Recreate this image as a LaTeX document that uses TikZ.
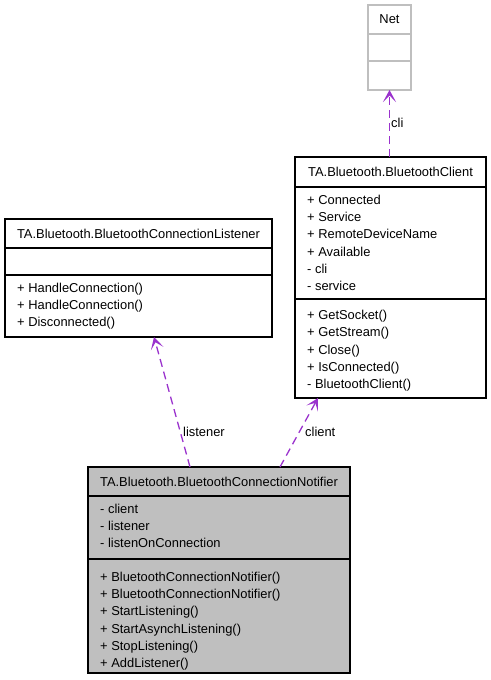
\documentclass[tikz,border=0pt]{standalone}
\usepackage{fontspec}
\setmainfont{Liberation Sans}
\usetikzlibrary{arrows.meta}
\definecolor{usecol}{HTML}{9A32CD}
\definecolor{notifill}{HTML}{BFBFBF}
\definecolor{extline}{HTML}{BFBFBF}
\begin{document}
\begin{tikzpicture}[x=1bp,y=-1bp,
  font=\fontsize{12.9bp}{15bp}\selectfont,
  classbox/.style={draw=black,line width=1.2bp,fill=white,inner sep=0pt,outer sep=0pt},
  member/.style={anchor=base west,inner sep=0pt},
  ctitle/.style={anchor=base,inner sep=0pt},
  divider/.style={draw=black,line width=1.2bp},
  uses/.style={draw=usecol,line width=1.3bp,dash pattern=on 8bp off 5bp,
    -{Stealth[length=12bp,width=13bp,inset=6.5bp]}},
  elabel/.style={anchor=west,inner sep=0pt}]
\useasboundingbox (0,0) rectangle (491,680);

% ---- Net (external) ----
\node[classbox,draw=extline,minimum width=43bp,minimum height=85bp] (net) at (389.5,47.5) {};
\draw[extline,line width=1.2bp] (net.west |- 0,34) -- (net.east |- 0,34);
\draw[extline,line width=1.2bp] (net.west |- 0,61) -- (net.east |- 0,61);
\node[ctitle] (netT) at (389.5,24) {Net};

% ---- TA.Bluetooth.BluetoothClient ----
\node[classbox,minimum width=191bp,minimum height=241bp] (cl) at (390.5,277.5) {};
\draw[divider] (cl.west |- 0,187) -- (cl.east |- 0,187);
\draw[divider] (cl.west |- 0,299) -- (cl.east |- 0,299);
\node[ctitle] (clT) at (390.5,176) {TA.Bluetooth.BluetoothClient};
\node[member] (cla1) at (307,204)   {+ Connected};
\node[member] (cla2) at (307,221.4) {+ Service};
\node[member] (cla3) at (307,238.7) {+ RemoteDeviceName};
\node[member] (cla4) at (307,256)   {+ Available};
\node[member] (cla5) at (307,273.4) {- cli};
\node[member] (cla6) at (307,290.7) {- service};
\node[member] (clm1) at (307,319.5) {+ GetSocket()};
\node[member] (clm2) at (307,336.8) {+ GetStream()};
\node[member] (clm3) at (307,354.2) {+ Close()};
\node[member] (clm4) at (307,371.5) {+ IsConnected()};
\node[member] (clm5) at (307,388.9) {- BluetoothClient()};

% ---- TA.Bluetooth.BluetoothConnectionListener ----
\node[classbox,minimum width=267bp,minimum height=118bp] (lstn) at (138.5,278) {};
\draw[divider] (lstn.west |- 0,248) -- (lstn.east |- 0,248);
\draw[divider] (lstn.west |- 0,275) -- (lstn.east |- 0,275);
\node[ctitle] (lstnT) at (138.5,238) {TA.Bluetooth.BluetoothConnectionListener};
\node[member] (lm1) at (17,292)   {+ HandleConnection()};
\node[member] (lm2) at (17,309.4) {+ HandleConnection()};
\node[member] (lm3) at (17,326.7) {+ Disconnected()};

% ---- TA.Bluetooth.BluetoothConnectionNotifier ----
\node[classbox,fill=notifill,minimum width=262bp,minimum height=206bp] (notif) at (219,570) {};
\draw[divider] (notif.west |- 0,496) -- (notif.east |- 0,496);
\draw[divider] (notif.west |- 0,559) -- (notif.east |- 0,559);
\node[ctitle] (notifT) at (219,486) {TA.Bluetooth.BluetoothConnectionNotifier};
\node[member] (na1) at (100,513)   {- client};
\node[member] (na2) at (100,530.4) {- listener};
\node[member] (na3) at (100,547.7) {- listenOnConnection};
\node[member] (nm1) at (100,581)   {+ BluetoothConnectionNotifier()};
\node[member] (nm2) at (100,598.4) {+ BluetoothConnectionNotifier()};
\node[member] (nm3) at (100,615.7) {+ StartListening()};
\node[member] (nm4) at (100,633)   {+ StartAsynchListening()};
\node[member] (nm5) at (100,650.4) {+ StopListening()};
\node[member] (nm6) at (100,667.7) {+ AddListener()};

% ---- usage relations ----
\draw[uses] (cl.north -| net.south) -- (net.south);
\node[elabel] (cliL) at (391,123) {cli};
\draw[uses] ([xshift=-29bp]notif.north) -- ([xshift=15.5bp]lstn.south);
\node[elabel] (lstnL) at (183,432) {listener};
\draw[uses] ([xshift=61bp]notif.north) -- ([xshift=-72.5bp]cl.south);
\node[elabel] (clL) at (305,432) {client};
\end{tikzpicture}
\end{document}
